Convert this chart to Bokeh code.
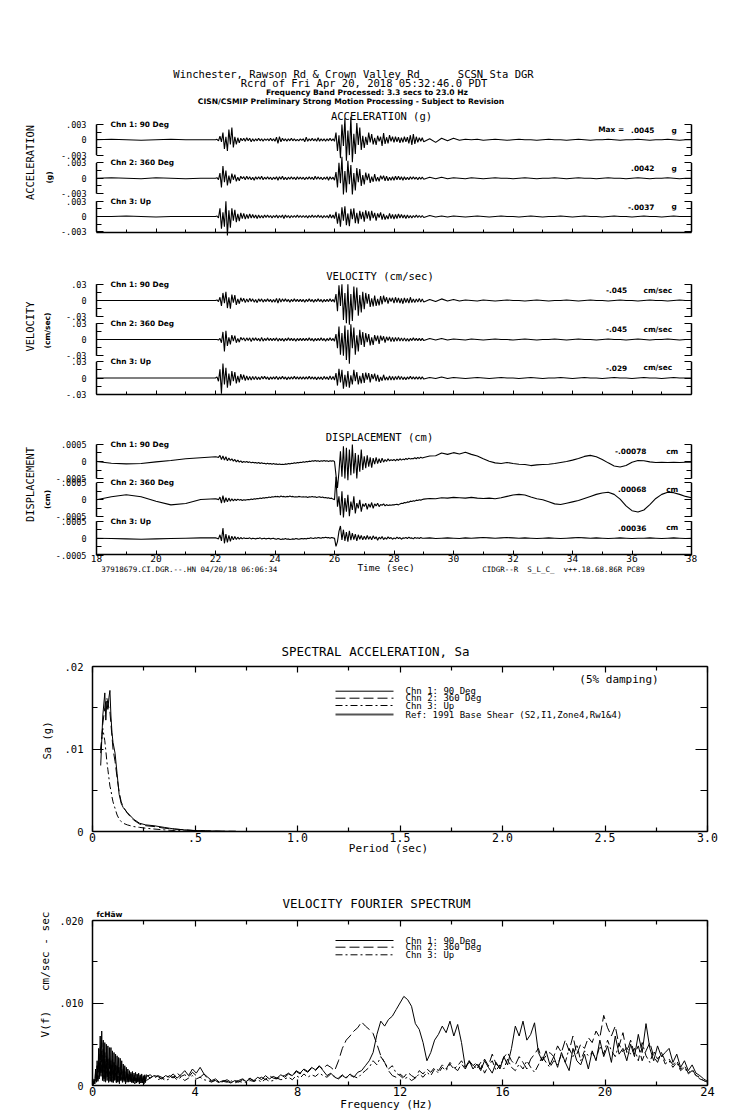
import numpy as np
from bokeh.plotting import figure
from bokeh.models import Range1d, LinearAxis, FixedTicker, Label
from bokeh.layouts import column
from bokeh.embed import file_html
from bokeh.resources import INLINE

# ------------------------------------------------------------------
# DATA
# time histories: pre-event samples 18.0-21.5 s (0.5 s step),
# strong-motion samples 22.00-28.95 s (0.05 s step), tail 29.0-38.0 s (0.2 s step)
# units: acceleration 1e-4 g, velocity 1e-3 cm/s, displacement 1e-5 cm
# ------------------------------------------------------------------
acc1_pre = [0, 1, 0, -1, 0, 1, 0, 0]
acc1_act = [0, 1, -2, 7, -4, 14, -18, 6, -22, 20, -9, 24, -15, 6, -9, 4, -6, 3, -2, 3,
            -3, 4, -2, 3, -4, 2, -3, 2, -2, 3, -2, 2, -3, 2, -1, 2, -2, 3, -2, 2,
            -3, 5, -7, 6, -4, 3, -2, 2, -3, 2, -2, 3, -2, 2, -2, 1, -2, 2, -1, 2,
            -4, 5, -3, 2, -2, 3, -2, 2, -3, 4, -3, 2, -2, 2, -3, 2, -2, 3, -2, 2,
            -3, 14, -22, 9, -36, 30, -12, 42, -41, 18, -30, 45, -44, 12, -28, 33, -10, 24, -20, 8,
            -16, 6, -10, 14, -5, 11, -9, 4, -10, 8, -3, 6, -12, 13, -8, 5, -7, 9, -3, 6,
            -5, 6, -4, 5, -6, 4, -5, 6, -4, 5, -7, 9, -10, 11, -8, 6, -5, 4, -3, 4]
acc1_tail = [-4, 2, -5, 3, -2, 3, -1, 1, 0, 1, -1, 0, 1, 0, -1, 0, 1, 0, 0, -1,
             0, 1, 0, 0, -1, 0, 1, 0, -1, 0, 0, 1, 0, -1, 0, 0, 1, 0, -1, 0,
             0, 1, 0, -1, 0, 0]

acc2_pre = [0, 1, 0, -1, 1, 0, -1, 0]
acc2_act = [0, 1, -3, 10, -18, 24, -8, 15, -14, 5, -10, 9, -3, 7, -6, 2, -5, 4, -1, 3,
            -3, 4, -2, 3, -3, 2, -4, 3, -2, 3, -2, 4, -3, 2, -2, 3, -2, 2, -3, 2,
            -2, 3, -4, 3, -2, 4, -3, 2, -3, 2, -2, 3, -2, 2, -3, 3, -2, 2, -2, 2,
            -3, 2, -2, 3, -2, 2, -3, 4, -2, 3, -2, 2, -3, 2, -2, 3, -4, 3, -2, 2,
            -4, 12, -18, 30, -10, 42, -32, 14, -28, 34, -12, 26, -32, 10, -24, 20, -8, 18, -15, 6,
            -12, 11, -4, 9, -9, 3, -7, 8, -6, 2, -6, 5, -2, 5, -5, 4, -5, 2, -4, 3,
            -4, 4, -3, 4, -3, 3, -4, 3, -3, 2, -3, 3, -2, 3, -2, 2, -3, 2, -2, 2]
acc2_tail = [-2, 2, -1, 2, -1, 1, 0, -1, 1, 0, -1, 0, 1, 0, 0, -1, 0, 1, 0, -1,
             0, 0, 1, 0, -1, 0, 1, 0, 0, -1, 0, 1, 0, 0, -1, 0, 1, 0, -1, 0,
             0, 1, 0, -1, 0, 0]

acc3_pre = [0, 0, 1, 0, -1, 0, 0, 0]
acc3_act = [0, 1, -3, 16, -24, 8, -20, 30, -37, 12, -22, 16, -8, 13, -11, 5, -9, 7, -4, 6,
            -5, 4, -4, 5, -3, 4, -3, 3, -4, 3, -3, 2, -3, 3, -2, 3, -2, 2, -3, 2,
            -2, 3, -3, 2, -2, 3, -4, 3, -2, 2, -3, 2, -2, 2, -2, 3, -2, 2, -2, 2,
            -2, 2, -3, 2, -2, 3, -2, 2, -2, 3, -2, 2, -3, 2, -2, 2, -3, 4, -3, 3,
            -4, 9, -14, 6, -20, 18, -8, 20, -17, 6, -19, 15, -5, 16, -13, 7, -14, 11, -5, 9,
            -10, 12, -4, 10, -8, 11, -3, 7, -8, 6, -2, 8, -6, 5, -6, 2, -5, 6, -4, 4,
            -5, 4, -4, 5, -3, 4, -3, 3, -4, 3, -3, 2, -3, 2, -2, 3, -2, 2, -2, 2]
acc3_tail = [-2, 2, -1, 1, -1, 1, 0, -1, 0, 1, 0, -1, 0, 1, 0, 0, -1, 0, 1, 0,
             -1, 0, 0, 1, 0, -1, 0, 1, 0, 0, -1, 0, 1, 0, 0, -1, 0, 1, 0, 0,
             -1, 0, 1, 0, 0, 0]

vel1_pre = [0, 0, 0, 0, 0, 0, 0, 0]
vel1_act = [0, 1, -2, 6, -10, 14, -5, 16, -14, 6, -15, 11, -4, 10, -8, 3, -6, 5, -2, 4,
            -4, 3, -3, 4, -2, 3, -3, 2, -4, 3, -2, 3, -3, 2, -2, 3, -2, 2, -3, 2,
            -3, 4, -5, 4, -3, 3, -2, 3, -2, 2, -3, 2, -2, 3, -2, 2, -2, 2, -2, 2,
            -3, 2, -2, 3, -2, 2, -3, 2, -2, 3, -2, 2, -3, 2, -2, 2, -2, 3, -2, 2,
            -3, 12, -20, 28, -10, 30, -36, 14, -42, 30, -45, 12, -38, 26, -18, 24, -28, 10, -22, 16,
            -16, 14, -6, 12, -12, 4, -11, 9, -10, 3, -9, 8, -7, 9, -3, 6, -6, 5, -2, 5,
            -5, 6, -4, 5, -5, 4, -6, 5, -4, 4, -5, 6, -4, 3, -4, 3, -3, 4, -3, 3]
vel1_tail = [-3, 2, -2, 3, -1, 2, -1, 1, 0, -1, 1, 0, -1, 0, 1, 0, 0, -1, 0, 1,
             0, -1, 0, 0, 1, 0, -1, 0, 1, 0, 0, -1, 0, 1, 0, 0, -1, 0, 1, 0,
             0, -1, 0, 1, 0, 0]

vel2_pre = [0, 0, 0, 0, 0, 0, 0, 0]
vel2_act = [0, 0, -1, 2, -6, 14, -22, 16, -12, 4, -9, 8, -3, 7, -6, 2, -5, 4, -1, 3,
            -3, 3, -2, 3, -4, 3, -2, 3, -2, 2, -3, 4, -3, 2, -2, 3, -2, 2, -2, 2,
            -2, 3, -3, 2, -2, 2, -3, 2, -2, 3, -2, 2, -2, 2, -3, 2, -2, 2, -2, 2,
            -2, 2, -2, 3, -2, 2, -3, 2, -2, 2, -2, 3, -2, 2, -3, 2, -2, 3, -2, 2,
            -3, 10, -16, 24, -28, 12, -30, 26, -38, 18, -45, 28, -16, 22, -28, 8, -22, 18, -10, 14,
            -14, 12, -5, 10, -11, 4, -10, 8, -3, 7, -8, 7, -2, 6, -6, 5, -2, 5, -4, 4,
            -4, 4, -3, 4, -3, 3, -3, 3, -3, 2, -3, 2, -2, 3, -2, 2, -2, 2, -2, 2]
vel2_tail = [-2, 2, -1, 2, -1, 1, 0, -1, 1, 0, -1, 0, 1, 0, 0, -1, 0, 1, 0, -1,
             0, 0, 1, 0, -1, 0, 1, 0, 0, -1, 0, 1, 0, 0, -1, 0, 1, 0, -1, 0,
             0, 1, 0, -1, 0, 0]

vel3_pre = [0, 0, 0, 0, 0, 0, 0, 0]
vel3_act = [0, 2, -6, 16, -29, 27, -12, 19, -18, 8, -14, 13, -6, 11, -10, 4, -8, 7, -3, 6,
            -5, 4, -4, 3, -4, 3, -3, 3, -3, 2, -3, 3, -2, 3, -2, 2, -3, 2, -2, 2,
            -2, 3, -3, 2, -2, 3, -2, 2, -3, 2, -2, 2, -2, 3, -2, 2, -2, 2, -2, 2,
            -2, 2, -2, 3, -2, 2, -2, 2, -3, 2, -2, 2, -3, 3, -2, 2, -3, 4, -3, 3,
            -4, 9, -14, 17, -8, 15, -20, 6, -16, 13, -18, 5, -12, 15, -6, 11, -12, 4, -10, 9,
            -9, 10, -3, 9, -8, 7, -2, 8, -6, 6, -7, 2, -5, 6, -4, 2, -4, 4, -4, 3,
            -4, 3, -3, 4, -3, 3, -3, 2, -3, 2, -2, 3, -2, 2, -2, 2, -2, 2, -2, 2]
vel3_tail = [-2, 1, -1, 2, -1, 1, 0, -1, 0, 1, 0, -1, 0, 1, 0, 0, -1, 0, 1, 0,
             -1, 0, 0, 1, 0, -1, 0, 1, 0, 0, -1, 0, 1, 0, 0, -1, 0, 1, 0, 0,
             -1, 0, 1, 0, 0, 0]

dis1_pre = [0, -5, -7, -6, -1, 3, 8, 11]
dis1_act = [14, 13, 12, 18, 6, 16, 4, 14, 2, 10, 3, 8, 1, 6, -1, 4, -2, 2, -3, 0,
            -2, 0, -3, -1, -4, -2, -4, -3, -5, -3, -6, -4, -6, -5, -7, -5, -7, -6, -8, -6,
            -8, -7, -9, -7, -9, -8, -9, -7, -8, -6, -7, -5, -6, -4, -5, -3, -4, -2, -3, -1,
            -2, 0, -1, 1, 0, 2, 1, 3, 1, 2, 0, 2, 1, 3, 1, 2, 0, 2, 1, 2,
            0, -40, -78, -30, 30, -45, 45, -50, 40, -55, 35, -40, 50, -35, 25, -50, 20, -30, 35, -25,
            15, -20, 18, -15, 12, -18, 10, -8, 12, -6, 8, -4, 10, -2, 6, 0, 8, 2, 5, 3,
            6, 2, 7, 3, 8, 4, 7, 5, 9, 6, 10, 7, 9, 8, 11, 8, 12, 9, 13, 10]
dis1_tail = [12, 16, 17, 25, 21, 26, 22, 27, 21, 16, 8, 1, -4, -6, -3, -6, -8, -9, -12, -10,
             -9, -8, -6, -3, 0, 4, 9, 15, 18, 14, 6, -4, -13, -16, -12, -2, 3, 2, -1, -3,
             -2, -3, -2, -3, -2, -2]

dis2_pre = [0, 9, 15, 9, -4, -15, -11, 1]
dis2_act = [3, 2, 0, 8, -10, 12, -8, 6, -6, 5, -4, 3, -3, 2, -2, 2, -1, 1, -2, 0,
            -1, 0, 1, 0, 2, 1, 3, 2, 4, 3, 5, 4, 6, 5, 7, 6, 8, 7, 9, 8,
            10, 9, 10, 8, 11, 9, 10, 8, 10, 9, 11, 9, 10, 8, 9, 8, 10, 9, 8, 9,
            8, 9, 7, 9, 8, 10, 8, 9, 7, 8, 9, 7, 8, 6, 7, 5, 6, 4, 5, 2,
            0, 68, -20, 10, -45, 25, -52, 5, -35, 15, -48, -5, -30, 10, -40, -10, -25, 0, -35, -12,
            -20, -10, -28, -12, -22, -8, -25, -12, -18, -10, -20, -14, -16, -12, -18, -14, -17, -15, -16, -15,
            -15, -14, -13, -15, -12, -10, -11, -8, -9, -6, -7, -4, -5, -3, -4, -1, -2, 0, -1, 1]
dis2_tail = [2, 4, 3, 6, 5, 7, 6, 5, 7, 5, 4, 5, 3, 6, 10, 14, 16, 14, 8, 3,
             0, -6, -12, -14, -10, -6, -2, 4, 10, 16, 20, 22, 16, 2, -18, -32, -36, -30, -14, 4,
             16, 22, 21, 16, 10, 6]

dis3_pre = [0, -1, -2, -3, -2, -1, 0, 1]
dis3_act = [1, 0, -2, 10, -8, 30, -15, 12, -12, 8, -9, 6, -5, 5, -4, 3, -3, 2, -2, 1,
            -1, 0, -1, 1, -2, 0, -1, -2, 0, -1, 1, -2, -1, 0, -2, -1, 0, -2, -1, 0,
            -2, -3, -1, -2, -4, -2, -3, -1, -3, -2, -4, -3, -2, -3, -1, -2, -3, -2, -1, -2,
            -1, -2, 0, -1, 1, 0, -1, 1, 0, 2, 1, 0, 2, 1, 3, 1, 2, 0, 2, 1,
            0, -24, -10, 20, 36, -5, 25, -8, 18, -10, 22, -6, 15, -4, 12, -8, 10, -3, 8, -5,
            6, -4, 8, -3, 5, -5, 7, -2, 4, -6, 3, -2, 5, -4, 2, -3, 4, -1, 2, -3,
            1, -2, 3, -1, 2, -3, 1, 0, 2, -1, 3, 0, 1, -2, 2, 0, 1, -1, 2, 0]
dis3_tail = [0, 1, -1, 0, 1, 0, -1, 1, 0, 1, 2, 1, 0, 1, 2, 1, 0, 1, 0, -1,
             0, 1, 0, -1, 0, 1, 2, 1, 0, 1, 0, -1, 0, 1, 0, -1, 0, 0, 1, 0,
             -1, 0, 1, 0, -1, 0]

acc_peaks = [".0045", ".0042", "-.0037"]
vel_peaks = ["-.045", "-.045", "-.029"]
dis_peaks = ["-.00078", ".00068", ".00036"]
chan_names = ["Chn 1: 90 Deg", "Chn 2: 360 Deg", "Chn 3: Up"]

# spectral acceleration (5% damping): period (s) and Sa (g)
sa_period = [0.04, 0.05, 0.06, 0.065, 0.07, 0.075, 0.08, 0.085, 0.09, 0.095, 0.10, 0.11, 0.12, 0.13,
             0.14, 0.15, 0.17, 0.20, 0.23, 0.26, 0.30, 0.35, 0.40, 0.45, 0.50, 0.55, 0.60, 0.65, 0.70]
sa_chn1 = [0.0080, 0.0140, 0.0168, 0.0135, 0.0158, 0.0148, 0.0162, 0.0171, 0.0140, 0.0120, 0.0108,
           0.0095, 0.0070, 0.0045, 0.0034, 0.0029, 0.0023, 0.0015, 0.0010, 0.0008, 0.0007, 0.0005,
           0.0003, 0.0002, 0.00012, 0.00008, 0.00005, 0.00003, 0.00002]
sa_chn2 = [0.0095, 0.0130, 0.0150, 0.0158, 0.0162, 0.0155, 0.0150, 0.0145, 0.0130, 0.0115, 0.0100,
           0.0085, 0.0065, 0.0048, 0.0036, 0.0030, 0.0022, 0.0014, 0.0009, 0.0007, 0.0006, 0.0004,
           0.0003, 0.0002, 0.0001, 0.00007, 0.00004, 0.00002, 0.00001]
sa_chn3 = [0.0100, 0.0125, 0.0110, 0.0098, 0.0085, 0.0075, 0.0065, 0.0055, 0.0050, 0.0042, 0.0036,
           0.0028, 0.0020, 0.0015, 0.0012, 0.0010, 0.0008, 0.0006, 0.0005, 0.0004, 0.0003, 0.0002,
           0.00012, 0.00008, 0.00005, 0.00003, 0.00002, 0.00001, 0.00001]

# velocity Fourier spectrum, units 1e-4 cm/sec-sec
# low band 0.00-2.07 Hz (0.03 Hz step), high band 2.1-24.0 Hz (0.15 Hz step)
fas1_low = [0, 2, 8, 3, 20, 5, 30, 8, 45, 12, 60, 15, 66, 10, 55, 8, 52, 6, 50, 10,
            48, 5, 46, 8, 46, 6, 42, 4, 40, 8, 38, 5, 36, 6, 34, 4, 33, 7, 30, 5,
            26, 6, 24, 4, 22, 6, 20, 5, 18, 6, 16, 5, 17, 4, 15, 6, 16, 3, 14, 5,
            15, 4, 13, 6, 14, 3, 12, 5, 13, 4]
fas1_high = [13, 9, 12, 11, 8, 12,
             10, 14, 9, 13, 18, 12, 20, 15, 22, 14,
             10, 6, 8, 4, 6, 5, 3, 6, 4, 7,
             5, 8, 6, 10, 7, 12, 8, 11, 9, 13,
             10, 14, 12, 18, 15, 20, 17, 22, 19, 24,
             18, 12, 15, 10, 8, 12, 9, 14, 10, 16,
             18, 24, 30, 40, 62, 78, 72, 80, 84, 92,
             100, 108, 104, 96, 75, 68, 52, 30, 40, 55,
             62, 72, 64, 78, 60, 74, 52, 22, 30, 20,
             26, 18, 30, 22, 15, 28, 20, 35, 25, 45,
             72, 60, 78, 55, 62, 76, 40, 30, 42, 25,
             35, 22, 40, 28, 18, 45, 30, 25, 38, 20,
             42, 30, 55, 35, 48, 28, 60, 38, 45, 30,
             50, 35, 62, 40, 75, 45, 30, 48, 35, 40,
             45, 28, 38, 22, 30, 18, 25, 15, 12, 8,
             5]
fas2_low = [0, 2, 6, 2, 16, 4, 24, 6, 36, 10, 48, 12, 52, 8, 44, 6, 40, 5, 36, 8,
            32, 4, 36, 6, 30, 5, 32, 3, 28, 6, 26, 4, 24, 5, 22, 3, 22, 6, 20, 4,
            18, 5, 17, 3, 16, 5, 14, 4, 13, 5, 14, 4, 13, 3, 14, 5, 12, 3, 13, 4,
            11, 5, 12, 3, 11, 4, 10, 3, 11, 4]
fas2_high = [11, 13, 9, 12, 10, 8,
             12, 9, 15, 11, 13, 10, 16, 12, 10, 14,
             8, 5, 6, 3, 5, 7, 4, 5, 6, 8,
             6, 9, 5, 8, 10, 7, 12, 9, 8, 11,
             12, 15, 11, 17, 14, 19, 16, 21, 18, 23,
             20, 25, 22, 18, 30, 45, 55, 60, 66, 70,
             77, 72, 68, 63, 50, 36, 28, 18, 12, 10,
             14, 10, 16, 12, 9, 18, 14, 20, 16, 22,
             18, 25, 20, 28, 22, 18, 26, 20, 30, 24,
             28, 20, 32, 24, 38, 26, 22, 34, 40, 30,
             25, 35, 28, 20, 32, 38, 45, 30, 36, 40,
             35, 48, 40, 55, 42, 60, 38, 50, 45, 58,
             52, 66, 58, 85, 70, 60, 72, 48, 64, 40,
             55, 38, 48, 30, 42, 52, 35, 28, 40, 30,
             32, 25, 30, 20, 24, 15, 20, 12, 10, 6,
             4]
fas3_low = [0, 1, 5, 2, 12, 3, 18, 5, 28, 8, 38, 10, 42, 6, 36, 5, 32, 4, 28, 6,
            26, 3, 28, 5, 24, 4, 25, 2, 22, 5, 20, 3, 19, 4, 18, 2, 17, 5, 16, 3,
            14, 4, 13, 2, 12, 4, 11, 3, 10, 4, 11, 3, 10, 4, 11, 2, 10, 3, 9, 4,
            10, 2, 9, 3, 8, 4, 9, 2, 8, 3]
fas3_high = [6, 9, 12, 7, 9, 6,
             8, 11, 7, 10, 6, 9, 12, 8, 10, 7,
             6, 4, 7, 3, 5, 4, 6, 3, 5, 4,
             4, 6, 5, 7, 4, 8, 5, 6, 9, 7,
             8, 10, 7, 12, 9, 14, 10, 13, 11, 15,
             12, 10, 14, 11, 9, 13, 10, 12, 11, 9,
             14, 18, 22, 30, 25, 35, 28, 20, 24, 15,
             12, 8, 10, 6, 9, 14, 10, 16, 12, 20,
             15, 22, 18, 26, 20, 24, 30, 22, 28, 25,
             20, 28, 15, 24, 30, 18, 25, 20, 32, 22,
             18, 26, 20, 30, 22, 16, 25, 35, 28, 22,
             30, 25, 38, 28, 45, 35, 50, 30, 42, 36,
             40, 32, 48, 38, 55, 42, 35, 50, 40, 46,
             38, 45, 30, 52, 36, 28, 42, 32, 38, 26,
             30, 22, 28, 18, 22, 14, 18, 12, 8, 6,
             3]

# ------------------------------------------------------------------
MONO = "DejaVu Sans Mono"
SANS = "DejaVu Sans"
NB = "\u00a0"
W = 736
L_TS, R_TS = 96, 691


def rec(pre, act, tail, unit):
    t = np.concatenate([18.0 + 0.5 * np.arange(len(pre)),
                        22.0 + 0.05 * np.arange(len(act)),
                        29.0 + 0.2 * np.arange(len(tail))])
    v = np.concatenate([pre, act, tail]).astype(float) * unit
    return t, v


def lab(p, x, y, text, size, font=MONO, style="normal", align="center", angle=0.0, yr="py"):
    p.add_layout(Label(x=x, y=y, text=text, x_range_name="px", y_range_name=yr,
                       text_font=font, text_font_size=f"{size}px", text_font_style=style,
                       text_align=align, text_baseline="middle", angle=angle, text_color="black"))


def base_figure(ctop, H, xr, yr):
    p = figure(width=W, height=H, x_range=Range1d(*xr), y_range=Range1d(*yr),
               x_axis_location=None, y_axis_location=None, output_backend="svg",
               toolbar_location=None, min_border=0)
    p.outline_line_color = None
    p.grid.visible = False
    p.extra_x_ranges = {"px": Range1d(0, W)}
    return p


def ts_figure(ctop, H, axis_y, zeros, half_px, full, recs, ttxt, time_labels):
    CB = ctop + H
    pxs = (R_TS - L_TS) / 20.0
    p = base_figure(ctop, H, (18 - L_TS / pxs, 38 + (W - R_TS) / pxs), (CB, ctop))
    s = half_px / full
    yrs = {"py": Range1d(CB, ctop)}
    for k, z in enumerate(zeros):
        yrs[f"c{k + 1}"] = Range1d((z - CB) / s, (z - ctop) / s)
    p.extra_y_ranges = yrs
    major, minor, over = [], [], {}
    for z in zeros:
        a, b, c = int(round(z - half_px)), int(round(z)), int(round(z + half_px))
        major += [a, b, c]
        over[a], over[b], over[c] = ttxt[0], "0", ttxt[1]
        minor += [int(round(z - half_px / 2)), int(round(z + half_px / 2))]
    tick_kw = dict(axis_line_color=None, major_tick_in=7, major_tick_out=0, minor_tick_in=5,
                   minor_tick_out=0, major_tick_line_width=1.2, minor_tick_line_width=1.2)
    la = LinearAxis(ticker=FixedTicker(ticks=major, minor_ticks=minor), major_label_overrides=over,
                    fixed_location=18, major_label_standoff=10, major_label_text_font=MONO,
                    major_label_text_font_size="8.5px", major_label_text_color="black", **tick_kw)
    p.add_layout(la, "left")
    ra = LinearAxis(ticker=FixedTicker(ticks=major, minor_ticks=minor), fixed_location=38,
                    major_label_overrides={m: "" for m in major}, major_label_standoff=0, **tick_kw)
    p.add_layout(ra, "right")
    tmaj = list(range(18, 39, 2))
    ba = LinearAxis(ticker=FixedTicker(ticks=tmaj, minor_ticks=list(range(19, 38, 2))),
                    fixed_location=axis_y, bounds=(18, 38),
                    axis_line_width=1.5, major_tick_in=4, major_tick_out=0, minor_tick_in=3,
                    minor_tick_out=0, major_label_standoff=0, major_label_text_font=MONO,
                    major_label_text_font_size="9.5px", major_label_text_color="black")
    if not time_labels:
        ba.major_label_overrides = {t: "" for t in tmaj}
    p.add_layout(ba, "below")
    tops = [z - half_px for z in zeros]
    bots = [z + half_px for z in zeros]
    for xb in (L_TS, R_TS):
        p.segment(x0=[xb] * 3, y0=tops, x1=[xb] * 3, y1=bots, x_range_name="px",
                  y_range_name="py", line_color="black", line_width=1.5)
    for k, (t, v) in enumerate(recs):
        p.line(t, v, y_range_name=f"c{k + 1}", line_color="black", line_width=1.1)
    for k, name in enumerate(chan_names):
        lab(p, 110, tops[k], name, 7.4, SANS, "bold", "left")
    return p, tops


# ---------------- acceleration ----------------
acc_recs = [rec(acc1_pre, acc1_act, acc1_tail, 1e-4), rec(acc2_pre, acc2_act, acc2_tail, 1e-4),
            rec(acc3_pre, acc3_act, acc3_tail, 1e-4)]
pA, topsA = ts_figure(0, 262, 232, [139.3, 177.7, 216.0], 15.3, 0.003, acc_recs,
                      (".003", "-.003"), False)
lab(pA, 353, 73, "Winchester, Rawson Rd & Crown Valley Rd" + NB * 6 + "SCSN Sta DGR", 10.5)
lab(pA, 363.5, 82.7, "Rcrd of Fri Apr 20, 2018 05:32:46.0 PDT", 10.5)
lab(pA, 366.5, 92.3, "Frequency Band Processed: 3.3 secs to 23.0 Hz", 7.6, SANS, "bold")
lab(pA, 350.5, 101, "CISN/CSMIP Preliminary Strong Motion Processing - Subject to Revision", 7.6, SANS, "bold")
lab(pA, 381, 115.7, "ACCELERATION (g)", 10.5)
lab(pA, 29, 162, "ACCELERATION", 10.4, angle=np.pi / 2)
lab(pA, 49, 177, "(g)", 7.5, SANS, "bold", angle=np.pi / 2)
lab(pA, 597.7, topsA[0] + 5, "Max =", 7.4, SANS, "bold", "left")
for k in range(3):
    lab(pA, 654, topsA[k] + 5.5, acc_peaks[k], 7.4, SANS, "bold", "right")
    lab(pA, 671, topsA[k] + 5.5, "g", 7.4, SANS, "bold", "left")

# ---------------- velocity ----------------
vel_recs = [rec(vel1_pre, vel1_act, vel1_tail, 1e-3), rec(vel2_pre, vel2_act, vel2_tail, 1e-3),
            rec(vel3_pre, vel3_act, vel3_tail, 1e-3)]
pB, topsB = ts_figure(262, 150, 394, [300.0, 339.0, 377.5], 16.2, 0.03, vel_recs,
                      (".03", "-.03"), False)
lab(pB, 379.5, 275, "VELOCITY (cm/sec)", 10.5)
lab(pB, 29, 326, "VELOCITY", 10.4, angle=np.pi / 2)
lab(pB, 47, 330, "(cm/sec)", 7.5, SANS, "bold", angle=np.pi / 2)
for k in range(3):
    lab(pB, 626.7, topsB[k] + 6, vel_peaks[k], 7.4, SANS, "bold", "right")
    lab(pB, 643, topsB[k] + 6, "cm/sec", 7.4, SANS, "bold", "left")

# ---------------- displacement ----------------
dis_recs = [rec(dis1_pre, dis1_act, dis1_tail, 1e-5), rec(dis2_pre, dis2_act, dis2_tail, 1e-5),
            rec(dis3_pre, dis3_act, dis3_tail, 1e-5)]
pC, topsC = ts_figure(412, 188, 554, [461.0, 499.3, 537.7], 17.0, 0.0005, dis_recs,
                      (".0005", "-.0005"), True)
lab(pC, 379, 436, "DISPLACEMENT (cm)", 10.5)
lab(pC, 29, 484, "DISPLACEMENT", 10.4, angle=np.pi / 2)
lab(pC, 47, 499, "(cm)", 7.5, SANS, "bold", angle=np.pi / 2)
for k in range(3):
    lab(pC, 646, topsC[k] + 6.5, dis_peaks[k], 7.4, SANS, "bold", "right")
    lab(pC, 665.7, topsC[k] + 6.5, "cm", 7.4, SANS, "bold", "left")
lab(pC, 385.5, 566.7, "Time (sec)", 9.5)
lab(pC, 100.7, 569, "37918679.CI.DGR.--.HN 04/20/18 06:06:34", 7.5, MONO, "normal", "left")
lab(pC, 481.7, 569, "CIDGR--R" + NB * 2 + "S_L_C_" + NB * 2 + "v++.18.68.86R PC89", 7.5, MONO, "normal", "left")


# ---------------- boxed spectrum figures ----------------
def box_figure(ctop, H, L, R, T, B, xr, yr, xmaj, xmin, xover, xfont, ymaj, ymin, yover, yfont):
    sx = (R - L) / (xr[1] - xr[0])
    sy = (B - T) / (yr[1] - yr[0])
    p = base_figure(ctop, H, (xr[0] - L / sx, xr[1] + (W - R) / sx),
                    (yr[0] - (ctop + H - B) / sy, yr[1] + (T - ctop) / sy))
    p.extra_y_ranges = {"py": Range1d(ctop + H, ctop)}
    common = dict(axis_line_width=1.5, major_tick_out=0, minor_tick_out=0,
                  major_tick_line_width=1.2, minor_tick_line_width=1.2)
    b = LinearAxis(ticker=FixedTicker(ticks=xmaj, minor_ticks=xmin), major_label_overrides=xover,
                   fixed_location=yr[0], bounds=xr, major_tick_in=6, minor_tick_in=4,
                   major_label_standoff=1, major_label_text_font=MONO,
                   major_label_text_font_size=xfont, major_label_text_color="black", **common)
    p.add_layout(b, "below")
    t = LinearAxis(ticker=FixedTicker(ticks=xmaj, minor_ticks=xmin), fixed_location=yr[1], bounds=xr,
                   major_label_overrides={m: "" for m in xmaj}, major_tick_in=6, minor_tick_in=4,
                   major_label_standoff=0, **common)
    p.add_layout(t, "above")
    lft = LinearAxis(ticker=FixedTicker(ticks=ymaj, minor_ticks=ymin), major_label_overrides=yover,
                     fixed_location=xr[0], bounds=yr, major_tick_in=11, minor_tick_in=5,
                     major_label_standoff=9, major_label_text_font=MONO,
                     major_label_text_font_size=yfont, major_label_text_color="black", **common)
    p.add_layout(lft, "left")
    rt = LinearAxis(ticker=FixedTicker(ticks=ymaj, minor_ticks=ymin), fixed_location=xr[1], bounds=yr,
                    major_label_overrides={m: "" for m in ymaj}, major_tick_in=12, minor_tick_in=7,
                    major_label_standoff=0, **common)
    p.add_layout(rt, "right")
    return p


LEG_X0, LEG_X1, LEG_TX = 335, 393, 405
styles = [dict(line_dash="solid"), dict(line_dash="10 4"), dict(line_dash="7 3 2 3")]

pD = box_figure(600, 262, 92, 707, 666, 831, (0, 3), (0, 0.02),
                [0, 0.5, 1.0, 1.5, 2.0, 2.5, 3.0], [0.25, 0.75, 1.25, 1.75, 2.25, 2.75],
                {0: "0", 0.5: ".5", 1.0: "1.0", 1.5: "1.5", 2.0: "2.0", 2.5: "2.5", 3.0: "3.0"}, "11.5px",
                [0, 0.01, 0.02], [0.005, 0.015], {0: "0", 0.01: ".01", 0.02: ".02"}, "10.5px")
for vals, st in zip([sa_chn1, sa_chn2, sa_chn3], styles):
    pD.line(sa_period, vals, line_color="black", line_width=1, **st)
sa_leg_y = [690.7, 697.7, 705.0, 714.0]
sa_leg_txt = chan_names + ["Ref: 1991 Base Shear (S2,I1,Zone4,Rw1&4)"]
for k in range(4):
    st = styles[k] if k < 3 else dict(line_dash="solid")
    pD.line([LEG_X0, LEG_X1], [sa_leg_y[k]] * 2, x_range_name="px", y_range_name="py",
            line_color="black" if k < 3 else "#555555", line_width=1 if k < 3 else 2.2, **st)
    lab(pD, LEG_TX, sa_leg_y[k], sa_leg_txt[k], 9, align="left")
lab(pD, 375, 650.7, "SPECTRAL ACCELERATION, Sa", 12.5)
lab(pD, 618.5, 679, "(5% damping)", 11)
lab(pD, 388, 848, "Period (sec)", 11)
lab(pD, 46.7, 740, "Sa (g)", 10.5, angle=np.pi / 2)

pE = box_figure(862, 250, 92, 707, 920, 1085, (0, 24), (0, 0.02),
                list(range(0, 25, 4)), list(range(2, 23, 4)), {}, "12px",
                [0, 0.01, 0.02], [0.005, 0.015], {0: "0", 0.01: ".010", 0.02: ".020"}, "10px")
for lo, hi, st in zip([fas1_low, fas2_low, fas3_low], [fas1_high, fas2_high, fas3_high], styles):
    f = np.concatenate([0.03 * np.arange(len(lo)), 2.1 + 0.15 * np.arange(len(hi))])
    v = np.concatenate([lo, hi]).astype(float) * 1e-4
    pE.line(f, v, line_color="black", line_width=1, **st)
fas_leg_y = [940.0, 946.7, 954.3]
for k in range(3):
    pE.line([LEG_X0, LEG_X1], [fas_leg_y[k]] * 2, x_range_name="px", y_range_name="py",
            line_color="black", line_width=1, **styles[k])
    lab(pE, LEG_TX, fas_leg_y[k], chan_names[k], 9, align="left")
lab(pE, 376, 903.3, "VELOCITY FOURIER SPECTRUM", 12.5)
lab(pE, 96, 914, "fcHäw", 7.5, SANS, "bold", "left")
lab(pE, 386, 1104, "Frequency (Hz)", 11)
lab(pE, 45, 974, "V(f)" + NB * 3 + "cm/sec - sec", 11, angle=np.pi / 2)

layout = column(pA, pB, pC, pD, pE, spacing=0)
open("out.html", "w").write(file_html(layout, INLINE, "Strong motion record"))
